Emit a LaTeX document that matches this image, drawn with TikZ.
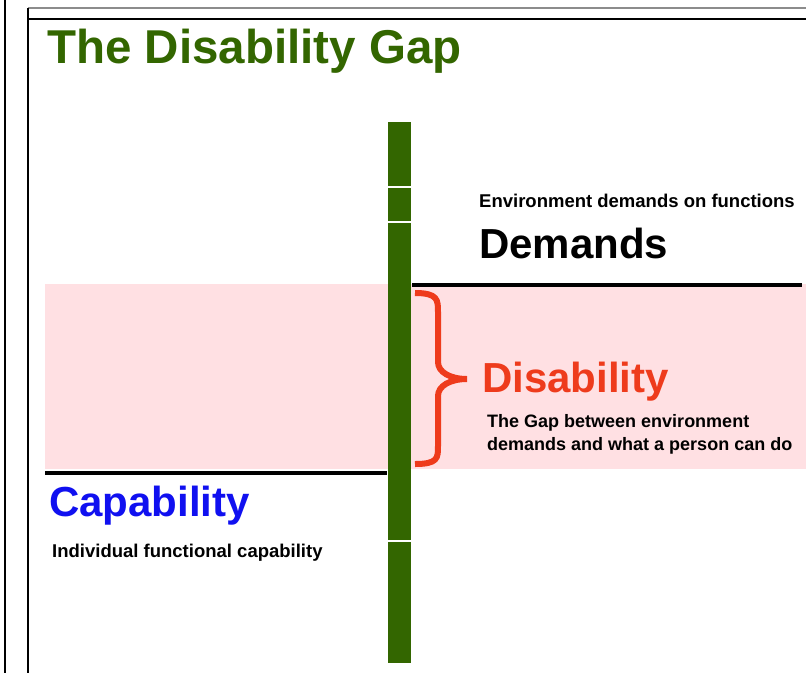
\documentclass[tikz,border=0pt]{standalone}
\usepackage{fontspec}
\setmainfont{Liberation Sans}
\usepackage{xcolor}
\usetikzlibrary{positioning}

\definecolor{gapgreen}{HTML}{336600}
\definecolor{gappink}{HTML}{FFE0E3}
\definecolor{gapred}{HTML}{EE3B1C}
\definecolor{capblue}{HTML}{1010F0}

\begin{document}
\begin{tikzpicture}[
  x=1pt,y=-1pt,
  lbl/.style={inner sep=0pt,anchor=base west},
  big/.style={lbl,font=\fontsize{42}{46}\selectfont\bfseries},
  small/.style={lbl,font=\fontsize{18.5}{23}\selectfont\bfseries,align=left},
  level/.style={line width=4.5pt},
  frame/.style={line width=1.6pt}
]
\useasboundingbox (0,0) rectangle (806,673);

% page frame
\coordinate (ftop) at (28,8);
\coordinate (ftopR) at (806,8);
\coordinate (frule) at (27,19);
\coordinate (fruleR) at (806,19);
\coordinate (fbot) at (28,673);
\draw[frame] (5,0) -- (5,673);
\draw[frame,black!45] (ftop) -- (ftopR);
\draw[frame,line width=2.2pt] (frule) -- (fruleR);
\draw[frame] (ftop) -- (fbot);

% the gap band, behind everything else
\fill[gappink] (45,284) rectangle (806,469);

% central bar
\fill[gapgreen] (388,122) rectangle (411,663);
\foreach \y in {187,222,541}
  \draw[white,line width=1.2pt] (388,\y) -- (411,\y);

% demand and capability levels
\coordinate (demL) at (412,285);
\coordinate (demR) at (802,285);
\coordinate (capL) at (45,473);
\coordinate (capR) at (387,473);
\draw[level] (demL) -- (demR);
\draw[level] (capL) -- (capR);

% brace across the gap
\coordinate (btip) at (467,379);
\draw[gapred,line width=6pt]
  (415,293) .. controls (438,293) and (438,300) .. (438,312) -- (438,362)
  .. controls (438,372) and (450,379) .. (btip)
  .. controls (450,379) and (438,386) .. (438,396) -- (438,446)
  .. controls (438,458) and (438,464) .. (415,464);

\node[lbl,font=\fontsize{47.5}{50}\selectfont\bfseries,text=gapgreen] (title) at (47,63) {The Disability Gap};

\node[small] (demnote) at (479,207) {Environment demands on functions};
\node[big] (demands) at (479,258) {Demands};

\node[big,text=gapred] (disab) at (482,392) {Disability};
% two lines: the base anchor sits on the lower one
\node[small,font=\fontsize{18}{23}\selectfont\bfseries] (gapnote) at (487,450)
  {The Gap between environment\\demands and what a person can do};

\node[big,text=capblue] (capab) at (49,516) {Capability};
\node[small] (capnote) at (52,557) {Individual functional capability};
\end{tikzpicture}
\end{document}
